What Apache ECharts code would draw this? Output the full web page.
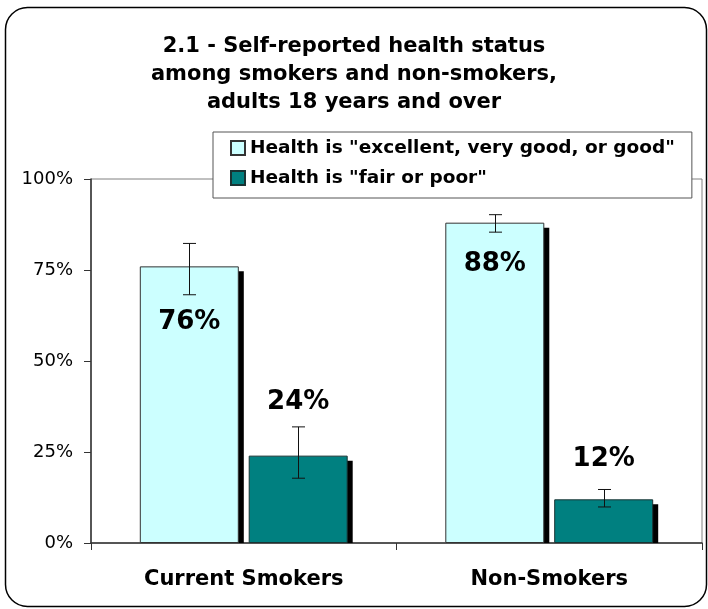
<!DOCTYPE html>
<html>
<head>
<meta charset="utf-8">
<script src="https://cdn.jsdelivr.net/npm/echarts@6/dist/echarts.min.js"></script>
<style>html,body{margin:0;padding:0;background:#fff}#c{width:708px;height:609px}</style>
</head>
<body>
<div id="c"></div>
<script>
const categories = ['Current Smokers', 'Non-Smokers'];
const seriesNames = ['Health is "excellent, very good, or good"', 'Health is "fair or poor"'];
const goodValues = [76, 88];
const goodLow = [68.2, 85.4];
const goodHigh = [82.3, 90.2];
const fairValues = [24, 12];
const fairLow = [17.8, 9.9];
const fairHigh = [31.9, 14.7];
const yTicks = [0, 25, 50, 75, 100];

const FONT = "'DejaVu Sans', Verdana, sans-serif";
const BAR_W = 99, GAP = 9.9, TOTAL = 2 * BAR_W + GAP;
const goodLabelDist = [43, 29];
const fairLabelDist = [40, 27];

function barLeft(cx, k) { return cx - TOTAL / 2 + k * (BAR_W + GAP); }

function shadowSeries(k, values) {
  return {
    type: 'custom', z: 1, silent: true,
    data: values.map((v, i) => [i, v]),
    renderItem: function (params, api) {
      const top = api.coord([api.value(0), api.value(1)]);
      const base = api.coord([api.value(0), 0]);
      const x = barLeft(top[0], k);
      return { type: 'rect', shape: { x: x + 5, y: top[1] + 5, width: BAR_W, height: base[1] - top[1] - 5 }, style: { fill: '#000' } };
    }
  };
}
function errorSeries(k, lows, highs) {
  return {
    type: 'custom', z: 5, silent: true,
    data: lows.map((l, i) => [i, l, highs[i]]),
    renderItem: function (params, api) {
      const lo = api.coord([api.value(0), api.value(1)]);
      const hi = api.coord([api.value(0), api.value(2)]);
      const cx = Math.round(barLeft(lo[0], k) + BAR_W / 2) + 0.5;
      const st = { stroke: '#111', lineWidth: 1 };
      return { type: 'group', children: [
        { type: 'line', shape: { x1: cx, y1: hi[1], x2: cx, y2: lo[1] }, style: st },
        { type: 'line', shape: { x1: cx - 6.5, y1: hi[1], x2: cx + 6.5, y2: hi[1] }, style: st },
        { type: 'line', shape: { x1: cx - 6.5, y1: lo[1], x2: cx + 6.5, y2: lo[1] }, style: st }
      ] };
    }
  };
}

const chart = echarts.init(document.getElementById('c'), null, { renderer: 'canvas' });
chart.setOption({
  animation: false,
  backgroundColor: '#fff',
  graphic: [{
    type: 'rect', z: -1,
    shape: { x: 5.5, y: 7.5, width: 701, height: 599, r: 22 },
    style: { fill: 'none', stroke: '#000', lineWidth: 1.5 }
  }],
  title: {
    text: '2.1 - Self-reported health status\namong smokers and non-smokers,\nadults 18 years and over',
    left: 'center', top: 28,
    textStyle: { fontFamily: FONT, fontWeight: 'bold', fontSize: 21, lineHeight: 28, color: '#000' }
  },
  legend: {
    orient: 'vertical', left: 213, top: 132,
    data: seriesNames,
    icon: 'rect', itemWidth: 14, itemHeight: 14, itemGap: 10,
    padding: [6, 17, 10, 17],
    backgroundColor: '#fff', borderColor: '#555', borderWidth: 1,
    textStyle: { fontFamily: FONT, fontWeight: 'bold', fontSize: 18.5, color: '#000', lineHeight: 20 },
    itemStyle: { shadowBlur: 0, shadowOffsetX: 0, shadowOffsetY: 0, shadowColor: 'transparent' }
  },
  grid: { left: 91, right: 6, top: 179, bottom: 66, show: true, borderColor: '#808080', borderWidth: 1, containLabel: false },
  xAxis: {
    type: 'category', data: categories,
    axisLine: { lineStyle: { color: '#333', width: 1.5 } },
    axisTick: { show: true, length: 7, lineStyle: { color: '#333' } },
    axisLabel: { fontFamily: FONT, fontWeight: 'bold', fontSize: 21, color: '#000', margin: 26 }
  },
  yAxis: {
    type: 'value', min: yTicks[0], max: yTicks[yTicks.length - 1], interval: 25,
    axisLine: { show: true, lineStyle: { color: '#333', width: 1.5 } },
    axisTick: { show: true, length: 7, lineStyle: { color: '#333' } },
    splitLine: { show: false },
    axisLabel: { fontFamily: FONT, fontSize: 18, color: '#000', margin: 18, formatter: '{value}%' }
  },
  series: [
    shadowSeries(0, goodValues),
    shadowSeries(1, fairValues),
    {
      name: seriesNames[0], type: 'bar', z: 2, barWidth: BAR_W, barGap: '10%',
      itemStyle: { color: '#CCFFFF', borderColor: '#333', borderWidth: 1 },
      label: { show: true, position: 'insideTop', formatter: '{c}%', fontFamily: FONT, fontWeight: 'bold', fontSize: 26, color: '#000' },
      data: goodValues.map((v, i) => ({ value: v, label: { distance: goodLabelDist[i] } }))
    },
    {
      name: seriesNames[1], type: 'bar', z: 2, barWidth: BAR_W, barGap: '10%',
      itemStyle: { color: '#008080', borderColor: '#1a3333', borderWidth: 1 },
      label: { show: true, position: 'top', formatter: '{c}%', fontFamily: FONT, fontWeight: 'bold', fontSize: 26, color: '#000' },
      data: fairValues.map((v, i) => ({ value: v, label: { distance: fairLabelDist[i] } }))
    },
    errorSeries(0, goodLow, goodHigh),
    errorSeries(1, fairLow, fairHigh)
  ]
});
</script>
</body>
</html>
